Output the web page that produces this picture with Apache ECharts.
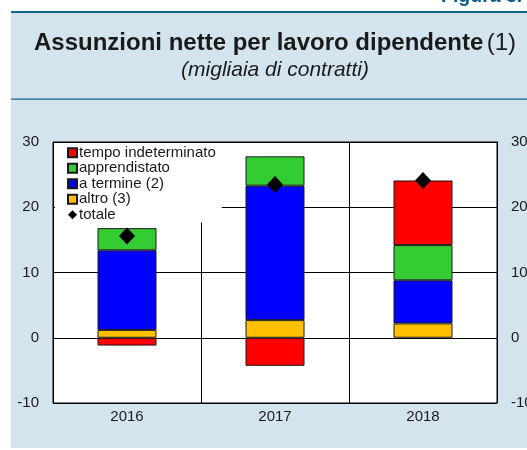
<!DOCTYPE html>
<html>
<head>
<meta charset="utf-8">
<script src="https://cdn.jsdelivr.net/npm/echarts@6/dist/echarts.min.js"></script>
<style>
  html, body { margin: 0; padding: 0; background: #fff; }
  #chart { width: 527px; height: 450px; }
</style>
</head>
<body>
<div id="chart"></div>
<script>
// values (thousands of contracts)
var years = ["2016", "2017", "2018"];
var tempoIndeterminato = [-1.2, -4.3, 9.9];
var apprendistato = [3.4, 4.5, 5.4];
var aTermine = [12.2, 20.6, 6.6];
var altro = [1.2, 2.7, 2.2];
var totale = [15.6, 23.5, 24.1];
var yTicks = { min: -10, max: 30, step: 10 };

var FONT = "'Liberation Sans', Arial, sans-serif";
var TEXT = "#1a1a1a";
var PANEL = "#d3e4ee";
var RULE = "#15628f";

function barSeries(name, data, color)
{
    return {
        name: name,
        type: "bar",
        stack: "tot",
        barWidth: 59,
        data: data,
        itemStyle: { color: color, borderColor: "#1a1a1a", borderWidth: 1 },
        emphasis: { disabled: true }
    };
}

function valueAxis(position, withSplit)
{
    return {
        type: "value",
        position: position,
        min: yTicks.min,
        max: yTicks.max,
        interval: yTicks.step,
        axisLine: { show: true, lineStyle: { color: "#000", width: 1 } },
        axisTick: { show: true, inside: true, length: 4, lineStyle: { color: "#000" } },
        axisLabel: { color: TEXT, fontSize: 15, fontFamily: FONT, margin: 14 },
        splitLine: { show: withSplit, lineStyle: { color: "#000", width: 1 } }
    };
}

var chart = echarts.init(document.getElementById("chart"), null, { renderer: "canvas" });

var option = {
    animation: false,
    backgroundColor: "#fff",
    graphic: [
        { type: "rect", z: -10, shape: { x: 11, y: 12, width: 516, height: 436 }, style: { fill: PANEL } },
        { type: "rect", z: -9, shape: { x: 11, y: 11, width: 516, height: 2 }, style: { fill: RULE } },
        { type: "rect", z: -9, shape: { x: 11, y: 98.5, width: 516, height: 1.2 }, style: { fill: RULE } },
        {
            type: "text", left: 441, top: -13,
            style: { text: "Figura 3.", fontSize: 19.5, fontWeight: "bold", fontFamily: FONT, fill: "#0f5a8c" }
        },
        {
            type: "text", x: 275, y: 43,
            style: {
                text: "{b|Assunzioni nette per lavoro dipendente} {n|(1)}",
                align: "center", verticalAlign: "middle",
                rich: {
                    b: { fontSize: 24, fontWeight: "bold", fontFamily: FONT, fill: TEXT },
                    n: { fontSize: 24, fontFamily: FONT, fill: TEXT }
                }
            }
        },
        {
            type: "text", x: 275, y: 70,
            style: {
                text: "(migliaia di contratti)", align: "center", verticalAlign: "middle",
                fontSize: 21, fontStyle: "italic", fontFamily: FONT, fill: TEXT
            }
        }
    ],
    grid: {
        left: 53, right: 30, top: 142, bottom: 47,
        outerBoundsMode: "none",
        containLabel: false,
        show: true, backgroundColor: "#fff", borderColor: "#000", borderWidth: 1
    },
    legend: {
        orient: "vertical",
        left: 55, top: 143,
        backgroundColor: "#fff",
        padding: [2, 6, 0, 12],
        itemGap: 0,
        itemWidth: 9,
        itemHeight: 9,
        selectedMode: false,
        textStyle: { color: TEXT, fontSize: 15, fontFamily: FONT, lineHeight: 15.5, padding: [0, 0, 0, -3] },
        data: [
            { name: "tempo indeterminato", icon: "rect" },
            { name: "apprendistato", icon: "rect" },
            { name: "a termine (2)", icon: "rect" },
            { name: "altro (3)", icon: "rect" },
            { name: "totale", icon: "diamond", itemStyle: { color: "#000", opacity: 1, borderWidth: 0 } }
        ]
    },
    xAxis: {
        type: "category",
        data: years,
        axisLine: { show: true, lineStyle: { color: "#000", width: 1 } },
        axisTick: { show: false },
        axisLabel: { color: TEXT, fontSize: 15, fontFamily: FONT, margin: 6 },
        splitLine: { show: true, lineStyle: { color: "#000", width: 1 } }
    },
    yAxis: [valueAxis("left", true), valueAxis("right", false)],
    series: [
        barSeries("altro (3)", altro, "#ffc000"),
        barSeries("a termine (2)", aTermine, "#0000ff"),
        barSeries("apprendistato", apprendistato, "#33cc33"),
        barSeries("tempo indeterminato", tempoIndeterminato, "#ff0000"),
        {
            name: "totale",
            type: "scatter",
            symbol: "diamond",
            symbolSize: [16, 17],
            data: totale,
            z: 5,
            itemStyle: { color: "#000", opacity: 1 },
            emphasis: { disabled: true }
        }
    ]
};

chart.setOption(option);
</script>
</body>
</html>
